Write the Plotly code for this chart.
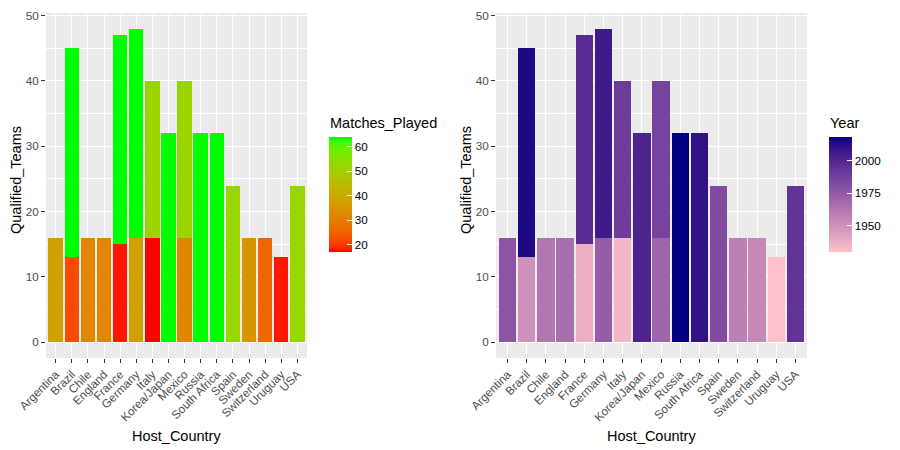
import numpy as np
import pandas as pd
import plotly.graph_objects as go

# ---- data ----
years = [1930, 1934, 1938, 1950, 1954, 1958, 1962, 1966, 1970, 1974, 1978,
         1982, 1986, 1990, 1994, 1998, 2002, 2006, 2010, 2014, 2018]
hosts = ["Uruguay", "Italy", "France", "Brazil", "Switzerland", "Sweden", "Chile",
         "England", "Mexico", "Germany", "Argentina", "Spain", "Mexico", "Italy",
         "USA", "France", "Korea/Japan", "Germany", "South Africa", "Brazil", "Russia"]
qualified_teams = [13, 16, 15, 13, 16, 16, 16, 16, 16, 16, 16,
                   24, 24, 24, 24, 32, 32, 32, 32, 32, 32]
matches_played = [18, 17, 18, 22, 26, 35, 32, 32, 32, 38, 38,
                  52, 52, 52, 52, 64, 64, 64, 64, 64, 64]
country_order = ["Argentina", "Brazil", "Chile", "England", "France", "Germany",
                 "Italy", "Korea/Japan", "Mexico", "Russia", "South Africa", "Spain",
                 "Sweden", "Switzerland", "Uruguay", "USA"]

df = pd.DataFrame({"Year": years, "Host_Country": hosts,
                   "Qualified_Teams": qualified_teams, "Matches_Played": matches_played})
df = df.sort_values("Year")
df["layer"] = df.groupby("Host_Country").cumcount()


# ---- Lab-space gradient like ggplot ----
def hex2rgb(h):
    h = h.lstrip("#")
    return np.array([int(h[i:i + 2], 16) / 255 for i in (0, 2, 4)])


M = np.array([[0.4124564, 0.3575761, 0.1804375],
              [0.2126729, 0.7151522, 0.0721750],
              [0.0193339, 0.1191920, 0.9503041]])
WHITE = np.array([0.95047, 1.0, 1.08883])


def rgb2lab(c):
    lin = np.where(c <= 0.04045, c / 12.92, ((c + 0.055) / 1.055) ** 2.4)
    xyz = M @ lin / WHITE
    f = np.where(xyz > 216 / 24389, np.cbrt(xyz), (24389 / 27 * xyz + 16) / 116)
    return np.array([116 * f[1] - 16, 500 * (f[0] - f[1]), 200 * (f[1] - f[2])])


def lab2rgb(lab):
    L, a, b = lab
    fy = (L + 16) / 116
    fx = fy + a / 500
    fz = fy - b / 200
    f = np.array([fx, fy, fz])
    xyz = np.where(f ** 3 > 216 / 24389, f ** 3, (116 * f - 16) / (24389 / 27)) * WHITE
    lin = np.linalg.inv(M) @ xyz
    lin = np.clip(lin, 0, 1)
    c = np.where(lin <= 0.0031308, 12.92 * lin, 1.055 * lin ** (1 / 2.4) - 0.055)
    c = np.clip(c, 0, 1)
    return "rgb(%d,%d,%d)" % tuple(np.round(c * 255).astype(int))


def lab_scale(low, high, n=21):
    l1, l2 = rgb2lab(hex2rgb(low)), rgb2lab(hex2rgb(high))
    return [[t, lab2rgb(l1 + (l2 - l1) * t)] for t in np.linspace(0, 1, n)]


# page offset (body margin) compensation
OX, OY = 8, 8
W, H = 900, 450


def px(x):
    return min(max((x - OX) / W, 0), 1)


def py(y):
    return min(max(1 - (y - OY) / H, 0), 1)


fig = go.Figure()
font = "Liberation Sans, Arial, sans-serif"

for axis_id, col, cax in [("", "Matches_Played", "coloraxis"), ("2", "Year", "coloraxis2")]:
    for layer in sorted(df["layer"].unique()):
        d = df[df["layer"] == layer]
        fig.add_trace(go.Bar(
            x=d["Host_Country"], y=d["Qualified_Teams"],
            marker=dict(color=d[col], coloraxis=cax, line=dict(width=0)),
            xaxis="x" + axis_id, yaxis="y" + axis_id,
            showlegend=False,
        ))

ydom = [py(358), py(13)]
tickfont = dict(family=font, size=11.7, color="#4D4D4D")
common_x = dict(type="category", categoryorder="array", categoryarray=country_order,
                range=[-0.6, 15.6], showgrid=True, gridcolor="white", gridwidth=1.1,
                ticks="outside", ticklen=4, tickcolor="#333333", tickwidth=1.1,
                tickangle=-45, tickfont=tickfont, automargin=False,
                ticklabeloverflow="allow",
                zeroline=False, showline=False)
common_y = dict(range=[-2.4, 50.4], tickvals=[0, 10, 20, 30, 40, 50],
                showgrid=True, gridcolor="white", gridwidth=1.1,
                minor=dict(tickvals=[5, 15, 25, 35, 45], showgrid=True,
                           gridcolor="white", gridwidth=0.5),
                ticks="outside", ticklen=4, tickcolor="#333333", tickwidth=1.1,
                tickfont=tickfont, automargin=False, ticklabeloverflow="allow",
                zeroline=False, showline=False, domain=ydom)


def cbar(x, vals):
    return dict(x=x, xanchor="left", y=py(194.5), yanchor="middle",
                len=115, lenmode="pixels", thickness=23, thicknessmode="pixels",
                outlinewidth=0, tickvals=vals,
                ticks="inside", ticklen=5, tickcolor="white",
                tickfont=dict(family=font, size=11.7, color="black"),
                xpad=0, ypad=0)


fig.update_layout(
    width=W, height=H,
    margin=dict(l=0, r=0, t=0, b=0, autoexpand=False),
    paper_bgcolor="white",
    barmode="stack", bargap=0.1,
    font=dict(family=font, color="black"),
    xaxis=dict(common_x, domain=[px(46), px(307)], anchor="y"),
    yaxis=dict(common_y, anchor="x"),
    xaxis2=dict(common_x, domain=[px(496), px(807)], anchor="y2"),
    yaxis2=dict(common_y, anchor="x2"),
    coloraxis=dict(colorscale=lab_scale("#FF0000", "#00FF00"),
                   cmin=min(matches_played), cmax=max(matches_played),
                   colorbar=cbar(px(329), [20, 30, 40, 50, 60])),
    coloraxis2=dict(colorscale=lab_scale("#FFC0CB", "#000080"),
                    cmin=min(years), cmax=max(years),
                    colorbar=cbar(px(829), [1950, 1975, 2000])),
    plot_bgcolor="#EBEBEB",
)

# legend titles
for xp, t in [(328, "Matches_Played"), (828, "Year")]:
    fig.add_annotation(text=t, x=px(xp), y=py(123), xref="paper", yref="paper",
                       showarrow=False, font=dict(family=font, size=14.5, color="black"),
                       xanchor="left", yanchor="middle")

# axis titles
for xc in [(46 + 307) / 2, (496 + 807) / 2]:
    fig.add_annotation(text="Host_Country", x=px(xc), y=py(436), xref="paper", yref="paper",
                       showarrow=False, font=dict(family=font, size=14.5, color="black"),
                       xanchor="center", yanchor="middle")
for xp in [16, 466]:
    fig.add_annotation(text="Qualified_Teams", x=px(xp), y=py(180), xref="paper", yref="paper",
                       showarrow=False, textangle=-90,
                       font=dict(family=font, size=14.5, color="black"),
                       xanchor="center", yanchor="middle")

fig.write_html("out.html")
